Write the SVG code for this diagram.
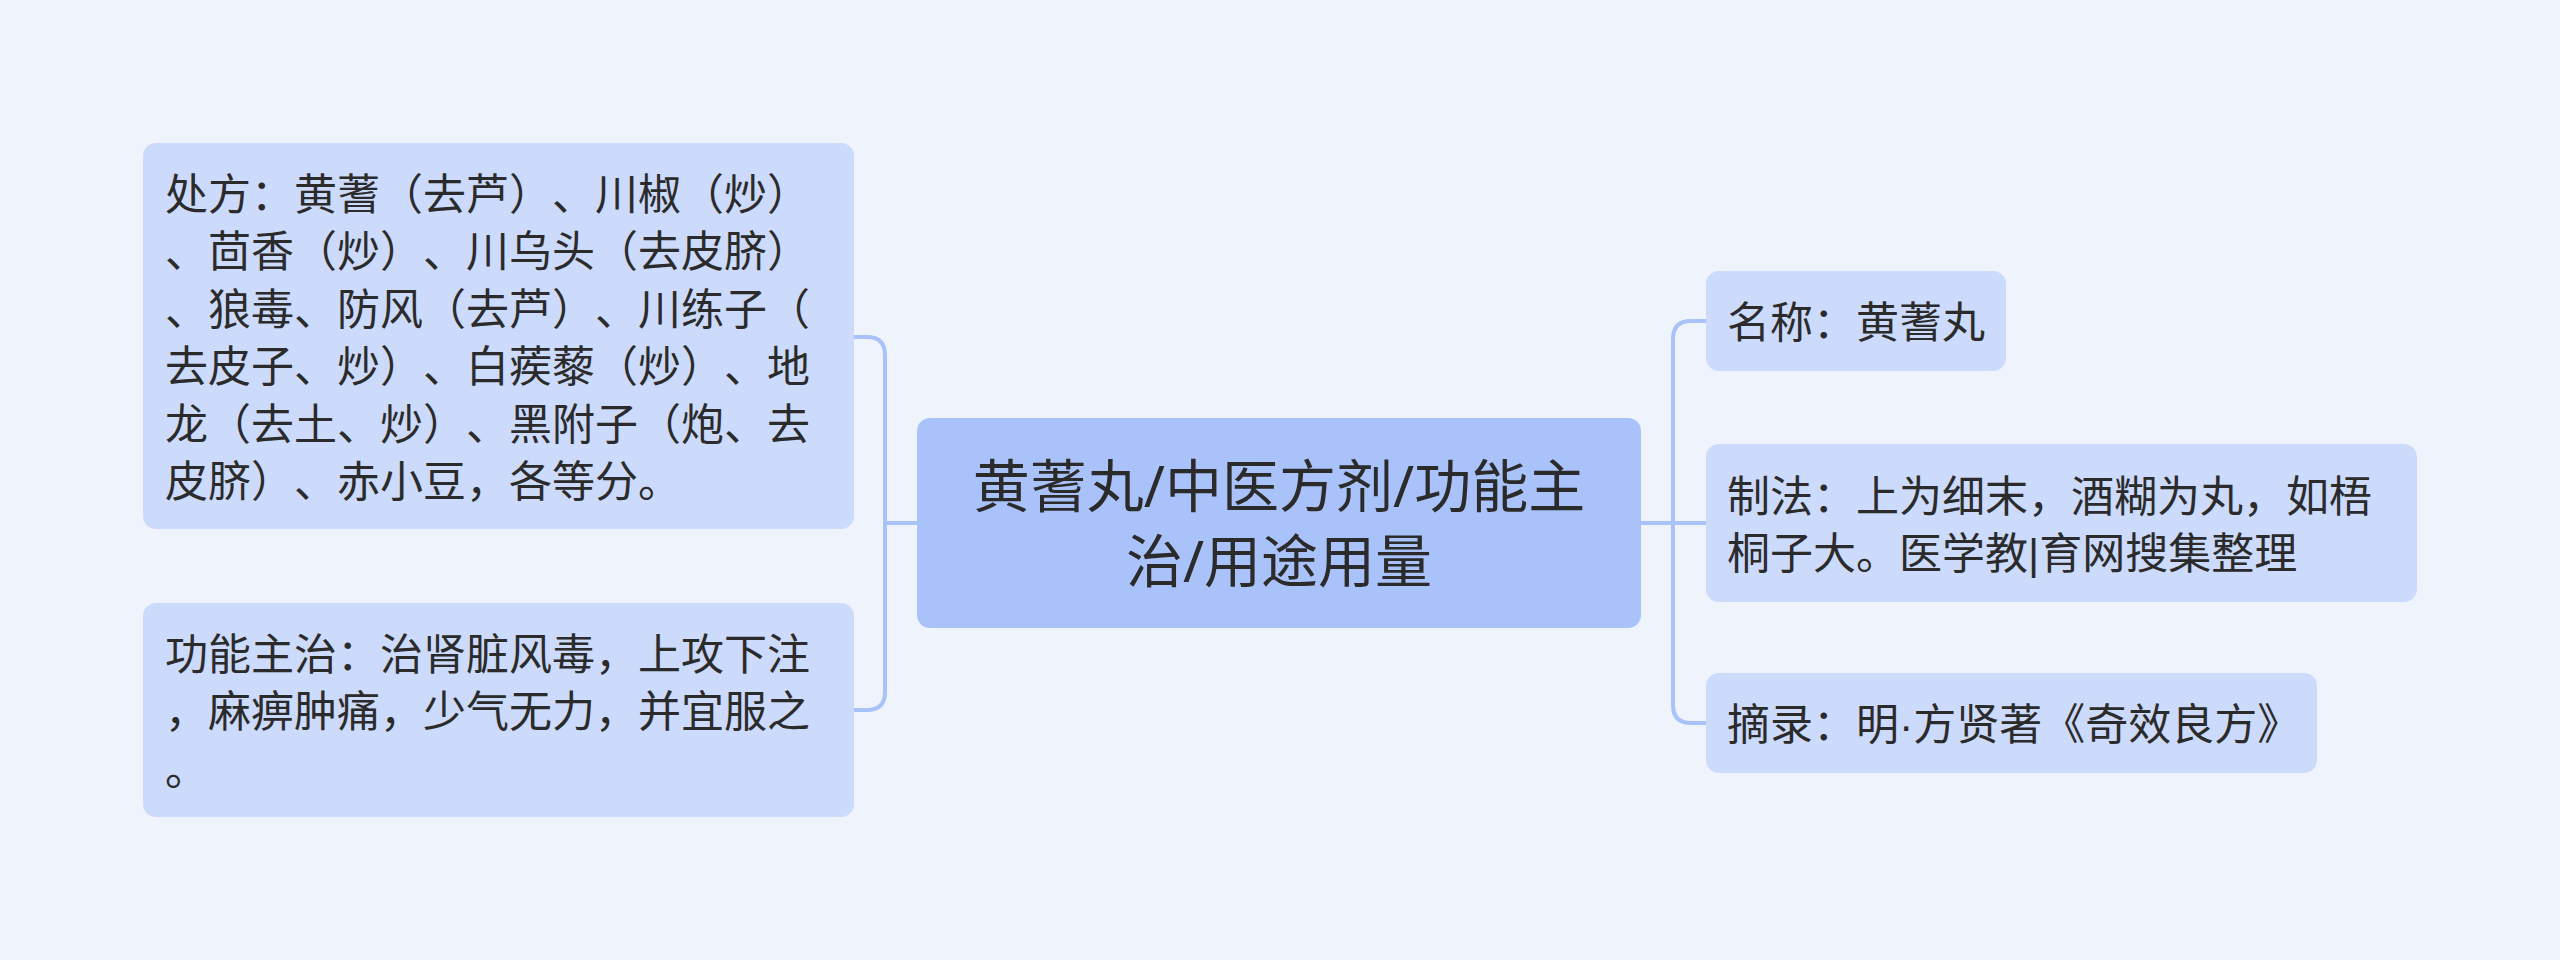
<svg xmlns="http://www.w3.org/2000/svg" width="2560" height="960" viewBox="0 0 2560 960">
<style>
  .bg { fill: #eff3fc; }
  .sub { fill: #ccdafb; }
  .main { fill: #a9c3fa; }
  .conn { fill: none; stroke: #a9c3f8; stroke-width: 4; stroke-linecap: round; }
  text { font-family: "Liberation Sans", "Noto Sans CJK SC", sans-serif; fill: #2b2b2b; text-spacing-trim: space-all; font-feature-settings: "halt" 0, "palt" 0, "chws" 0; }
  .t { font-size: 43px; }
  .tm { font-size: 57px; text-anchor: middle; font-family: "Noto Sans", "Noto Sans CJK SC", sans-serif; }
</style>
<rect class="bg" x="0" y="0" width="2560" height="960"/>
<g id="connectors">
  <path class="conn" d="M 854 337 H 867 Q 885 337 885 355 V 692 Q 885 710 867 710 H 854"/>
  <path class="conn" d="M 885 523 H 917"/>
  <path class="conn" d="M 1706 321 H 1691 Q 1673 321 1673 339 V 705 Q 1673 723 1691 723 H 1706"/>
  <path class="conn" d="M 1641 523 H 1706"/>
</g>
<g id="node-center">
  <rect class="main" x="917" y="418" width="724" height="210" rx="13"/>
  <text class="tm" x="1279" y="507">黄蓍丸/中医方剂/功能主</text>
  <text class="tm" x="1279" y="582">治/用途用量</text>
</g>
<g id="node-prescription">
  <rect class="sub" x="143" y="143" width="711" height="386" rx="13"/>
  <text class="t" x="165" y="210">处方：黄蓍（去芦）、川椒（炒）</text>
  <text class="t" x="165" y="267">、茴香（炒）、川乌头（去皮脐）</text>
  <text class="t" x="165" y="325">、狼毒、防风（去芦）、川练子（</text>
  <text class="t" x="165" y="382">去皮子、炒）、白蒺藜（炒）、地</text>
  <text class="t" x="165" y="440">龙（去土、炒）、黑附子（炮、去</text>
  <text class="t" x="165" y="497">皮脐）、赤小豆，各等分。</text>
</g>
<g id="node-function">
  <rect class="sub" x="143" y="603" width="711" height="214" rx="13"/>
  <text class="t" x="165" y="670">功能主治：治肾脏风毒，上攻下注</text>
  <text class="t" x="165" y="727">，麻痹肿痛，少气无力，并宜服之</text>
  <text class="t" x="165" y="785">。</text>
</g>
<g id="node-name">
  <rect class="sub" x="1706" y="271" width="300" height="100" rx="13"/>
  <text class="t" x="1727" y="338">名称：黄蓍丸</text>
</g>
<g id="node-method">
  <rect class="sub" x="1706" y="444" width="711" height="158" rx="13"/>
  <text class="t" x="1727" y="512">制法：上为细末，酒糊为丸，如梧</text>
  <text class="t" x="1727" y="569">桐子大。医学教|育网搜集整理</text>
</g>
<g id="node-source">
  <rect class="sub" x="1706" y="673" width="611" height="100" rx="13"/>
  <text class="t" x="1727" y="740">摘录：明·方贤著《奇效良方》</text>
</g>
</svg>
